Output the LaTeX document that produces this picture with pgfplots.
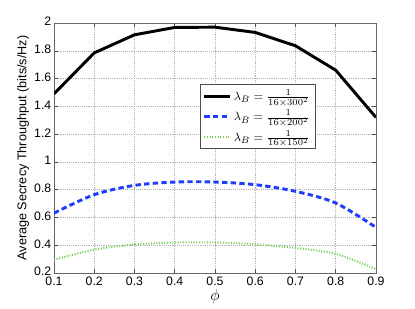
\documentclass[border=0pt]{standalone}
\usepackage{pgfplots}
\pgfplotsset{compat=1.18}
\usepackage{fontspec}
\setmainfont{Liberation Sans}
\definecolor{mblue}{RGB}{30,60,255}
\definecolor{mgreen}{RGB}{120,205,90}
\begin{document}
\begin{tikzpicture}[x=1pt,y=1pt]
\begin{axis}[
  scale only axis,
  width=241.5pt, height=187.5pt,
  xmin=0.1, xmax=0.9, ymin=0.2, ymax=2,
  xtick={0.1,0.2,0.3,0.4,0.5,0.6,0.7,0.8,0.9},
  ytick={0.2,0.4,0.6,0.8,1,1.2,1.4,1.6,1.8,2},
  /pgf/number format/assume math mode=true,
  /pgf/number format/fixed,
  tick label style={font=\fontsize{9.2}{11}\selectfont},
  label style={font=\fontsize{9.5}{11}\selectfont},
  xlabel={\large$\phi$},
  ylabel={Average Secrecy Throughput (bits/s/Hz)},
  xlabel style={yshift=4pt},
  ylabel style={yshift=-3pt},
  xticklabel style={yshift=0.5pt},
  yticklabel style={xshift=1.5pt, yshift=1pt},
  grid=major,
  major grid style={densely dotted, gray!60, line width=0.4pt},
  tick align=inside,
  ticklabel pos=left,
  xtick pos=both, ytick pos=both,
  major tick length=3pt,
  tick style={black!70, line width=0.4pt},
  axis line style={black!60, line width=0.6pt},
  legend style={at={(0.453,0.756)}, anchor=north west, draw=black!70, line width=0.5pt,
    font=\fontsize{9.5}{11}\selectfont, inner sep=2pt, row sep=1.5pt, fill=white},
  legend cell align=left,
  legend image code/.code={\draw[#1] (0pt,0pt) -- (19pt,0pt);},
]
\addplot[black, line width=2.2pt] coordinates {
(0.1,1.49) (0.2,1.785) (0.3,1.915) (0.4,1.968) (0.5,1.97) (0.6,1.932) (0.7,1.836) (0.8,1.66) (0.9,1.32)};
\addlegendentry{$\lambda_B=\frac{1}{16\times300^2}$}
\addplot[mblue, line width=2.2pt, dash pattern=on 4pt off 2.5pt, smooth] coordinates {
(0.1,0.631) (0.2,0.764) (0.3,0.831) (0.4,0.855) (0.5,0.855) (0.6,0.836) (0.7,0.788) (0.8,0.704) (0.9,0.528)};
\addlegendentry{$\lambda_B=\frac{1}{16\times200^2}$}
\addplot[mgreen, line width=1.5pt, dash pattern=on 0.8pt off 1.2pt, smooth] coordinates {
(0.1,0.295) (0.2,0.368) (0.3,0.405) (0.4,0.42) (0.5,0.42) (0.6,0.407) (0.7,0.38) (0.8,0.338) (0.9,0.228)};
\addlegendentry{$\lambda_B=\frac{1}{16\times150^2}$}
\end{axis}
\path ([xshift=-40.5pt,yshift=-24pt]current axis.south west) rectangle ([xshift=29.25pt,yshift=17.25pt]current axis.north east);
\end{tikzpicture}
\end{document}
